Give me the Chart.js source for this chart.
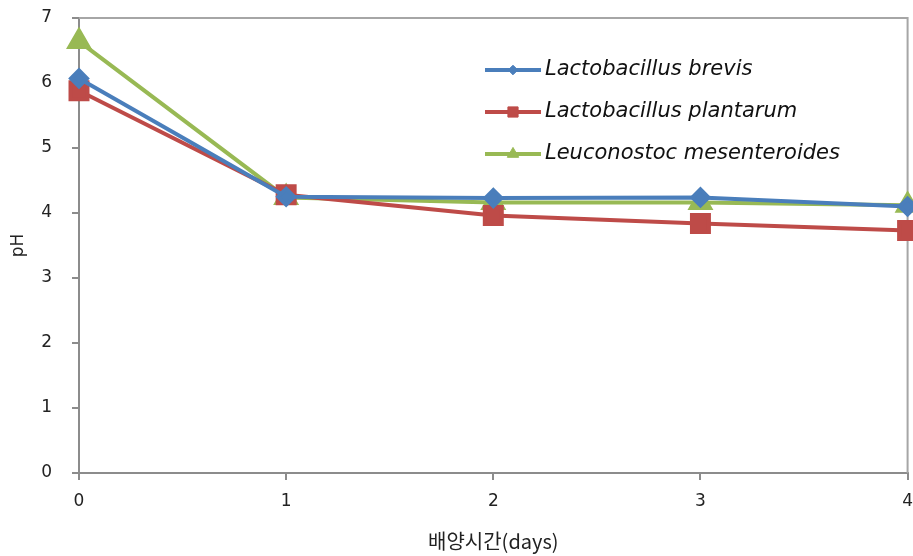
<!DOCTYPE html>
<html>
<head>
<meta charset="utf-8">
<script src="https://cdn.jsdelivr.net/npm/chart.js@4/dist/chart.umd.min.js"></script>
<style>
  html, body { margin: 0; padding: 0; background: #fff; overflow: hidden; }
  #wrap { width: 913px; height: 556px; overflow: hidden; }
</style>
</head>
<body>
<div id="wrap"><canvas id="phChart" width="924" height="556"></canvas></div>
<script>
// culture time (days) and pH readings per strain
var days = [0, 1, 2, 3, 4];
var brevis = [6.07, 4.25, 4.23, 4.24, 4.10];
var plantarum = [5.88, 4.28, 3.96, 3.84, 3.73];
var mesenteroides = [6.64, 4.24, 4.16, 4.16, 4.12];
var seriesNames = ['Lactobacillus brevis', 'Lactobacillus plantarum', 'Leuconostoc mesenteroides'];

function toPoints(vals) {
    return days.map(function (d, i) { return { x: d, y: vals[i] }; });
}

var axisGray = '#8c8c8c';
var tickFont = { family: 'DejaVu Sans', size: 17 };

// light grey frame around the plot area
var frame = {
    id: 'frame',
    beforeDatasetsDraw: function (chart) {
        var a = chart.chartArea, ctx = chart.ctx;
        ctx.save();
        ctx.strokeStyle = '#a6a6a6';
        ctx.lineWidth = 2;
        ctx.beginPath();
        ctx.moveTo(a.left, a.top);
        ctx.lineTo(a.right, a.top);
        ctx.lineTo(a.right, a.bottom);
        ctx.stroke();
        ctx.restore();
    }
};

// legend inside the plot, line + marker samples like the spreadsheet one
var insideLegend = {
    id: 'insideLegend',
    afterDatasetsDraw: function (chart) {
        var ctx = chart.ctx;
        var x0 = 485, y0 = 70, gap = 42;
        ctx.save();
        chart.data.datasets.forEach(function (ds, i) {
            var y = y0 + i * gap;
            ctx.strokeStyle = ds.borderColor;
            ctx.fillStyle = ds.borderColor;
            ctx.lineWidth = 4;
            ctx.beginPath();
            ctx.moveTo(x0, y);
            ctx.lineTo(x0 + 56, y);
            ctx.stroke();
            ctx.lineWidth = 1;
            Chart.helpers.drawPoint(ctx, {
                pointStyle: ds.pointStyle,
                radius: ds.pointRadius * 0.6,
                rotation: 0,
                borderWidth: 1
            }, x0 + 28, y);
            ctx.fillStyle = '#111';
            ctx.font = 'italic 21px "DejaVu Sans", sans-serif';
            ctx.textBaseline = 'middle';
            ctx.fillText(ds.label, x0 + 60, y);
        });
        ctx.restore();
    }
};

function series(label, vals, color, style, r) {
    return {
        label: label,
        data: toPoints(vals),
        borderColor: color,
        backgroundColor: color,
        pointBackgroundColor: color,
        pointBorderColor: color,
        pointStyle: style,
        pointRadius: r,
        borderWidth: 4,
        tension: 0,
        clip: false
    };
}

new Chart(document.getElementById('phChart'), {
    type: 'line',
    data: {
        datasets: [
            series(seriesNames[0], brevis, '#4a7ebb', 'rectRot', 8),
            series(seriesNames[1], plantarum, '#be4b48', 'rect', 12),
            series(seriesNames[2], mesenteroides, '#98b954', 'triangle', 11)
        ]
    },
    options: {
        responsive: false,
        animation: false,
        layout: { padding: 0 },
        plugins: { legend: { display: false }, tooltip: { enabled: false } },
        scales: {
            x: {
                type: 'linear',
                min: 0,
                max: 4,
                ticks: { stepSize: 1, color: '#222', font: tickFont, padding: 11 },
                grid: { drawOnChartArea: false, color: axisGray, tickLength: 7, lineWidth: 2 },
                border: { color: axisGray, width: 2 },
                title: {
                    display: true,
                    text: '배양시간(days)',
                    color: '#222',
                    font: { family: 'Noto Sans CJK KR', size: 20 },
                    padding: { top: 0, bottom: 3 }
                },
                afterFit: function (s) {
                    s.height = 83;
                }
            },
            y: {
                min: 0,
                max: 7,
                ticks: { stepSize: 1, color: '#222', font: tickFont, padding: 20 },
                grid: { drawOnChartArea: false, color: axisGray, tickLength: 7, lineWidth: 2 },
                border: { color: axisGray, width: 2 },
                title: {
                    display: true,
                    text: 'pH',
                    color: '#222',
                    font: { family: 'DejaVu Sans', size: 17 },
                    padding: { top: 8, bottom: 0 }
                },
                afterFit: function (s) {
                    s.width = 79;
                    s.paddingTop = 18;
                    s.paddingBottom = 0;
                }
            }
        }
    },
    plugins: [frame, insideLegend]
});
</script>
</body>
</html>
